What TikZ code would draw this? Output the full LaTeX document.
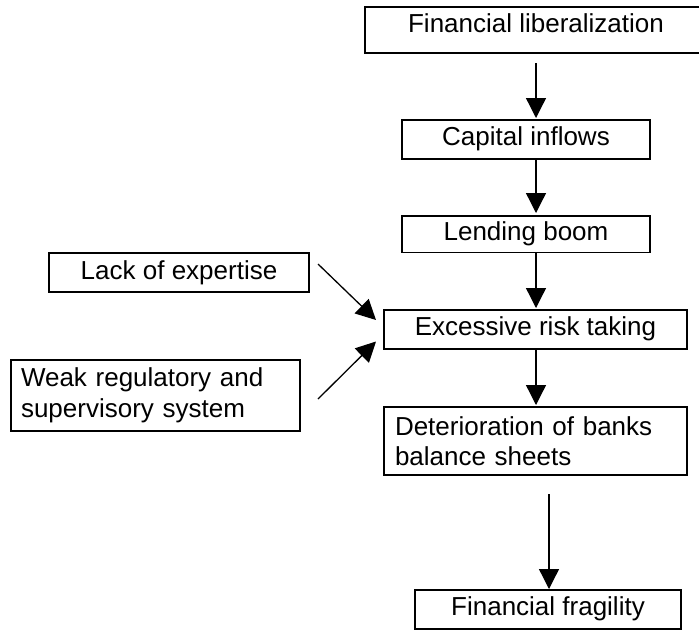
\documentclass[tikz,border=0pt]{standalone}
\usepackage{fontspec}
\setmainfont{Liberation Sans}
\usetikzlibrary{arrows.meta,calc}
\begin{document}
\begin{tikzpicture}[x=1pt,y=-1pt,
  box/.style={draw, line width=1.4pt, inner xsep=0pt, inner ysep=0pt, outer sep=0pt,
    anchor=north west, font=\fontsize{26pt}{30.5pt}\selectfont, align=center},
  twoline/.style={box, align=left, inner xsep=10pt},
  flow/.style={line width=1.3pt, -{Triangle[width=20pt,length=20pt]}}]
\clip (0,0) rectangle (699,630);

% main chain
\node[box, minimum width=342pt, text height=25pt, text depth=21pt] (lib) at (365,7) {Financial liberalization};
\node[box, minimum width=248pt, text height=25pt, text depth=14pt] (inflows) at (402,120) {Capital inflows};
\node[box, minimum width=248pt, text height=24.5pt, text depth=12pt] (boom) at (402,216) {Lending boom};
\node[box, minimum width=303pt, text height=25pt, text depth=14pt] (risk) at (384,310) {Excessive risk taking};
\node[twoline, text width=281pt, inner xsep=11pt, minimum height=68pt] (sheets) at (384,407)
  {Deterioration of banks\\balance sheets};
\node[box, minimum width=266pt, text height=25pt, text depth=14pt] (fragility) at (415,590) {Financial fragility};

% side causes
\node[box, minimum width=260pt, text height=26pt, text depth=13pt] (expertise) at (49,253) {Lack of expertise};
\node[twoline, text width=269pt, minimum height=71pt] (weak) at (11,360)
  {Weak regulatory and\\supervisory system};

% connectors
\coordinate (spine) at (536,0);
\coordinate (drop) at (549,0);
\draw[flow, shorten <=10pt, shorten >=2pt] (lib.south -| spine) -- (inflows.north -| spine);
\draw[flow, shorten >=3pt] (inflows.south -| spine) -- (boom.north -| spine);
\draw[flow, shorten >=2pt] (boom.south -| spine) -- (risk.north -| spine);
\draw[flow, shorten >=2pt] (risk.south -| spine) -- (sheets.north -| spine);
\draw[flow, shorten <=19pt, shorten >=1pt] (sheets.south -| drop) -- (fragility.north -| drop);
\draw[flow] ($(expertise.east)+(9,-8.5)$) -- ($(risk.west)+(-8,-9.5)$);
\draw[flow] ($(weak.east)+(18,3.5)$) -- ($(risk.west)+(-8,12)$);
\end{tikzpicture}
\end{document}
